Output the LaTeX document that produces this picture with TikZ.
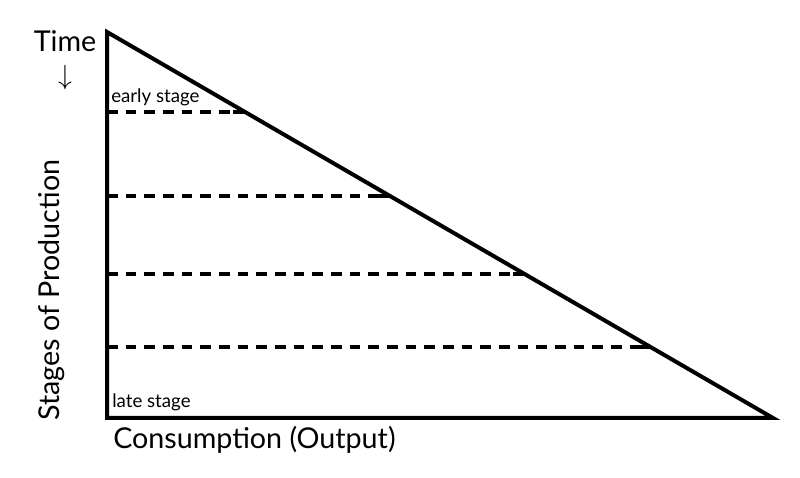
\documentclass[tikz,border=0pt]{standalone}
\usepackage{fontspec}
\setmainfont{Lato}
\usetikzlibrary{calc}
\begin{document}
\begin{tikzpicture}[x=0.75pt,y=0.75pt,
    axisline/.style={draw=black,-,line width=3pt},
    stageline/.style={draw=black,-,line width=3pt,dash pattern=on 8pt off 6pt},
    bigtext/.style={font=\fontsize{21.5}{25}\selectfont,inner sep=0pt},
    smalltext/.style={font=\fontsize{14}{16}\selectfont,inner sep=0pt}]
    \useasboundingbox (0,0) rectangle (800,478);
    \coordinate (top) at (107,446);
    \coordinate (origin) at (107,60);
    \coordinate (right) at (773,60);
    \draw [axisline] (top) -- (origin) -- (right) -- cycle;

    \foreach \t [count=\i] in {0.2073,0.4249,0.6269,0.8161} {
        \coordinate (s\i) at ($(top)!\t!(origin)$);
        \coordinate (e\i) at ($(top)!\t!(right)$);
        \draw [stageline] (s\i) to (e\i);
        \draw [axisline] (e\i) to ($(e\i)+(-12,0)$);
    }

    \node[bigtext] (time) at (65,437) {Time};
    \node[bigtext] (arrow) at (65,400) {$\downarrow$};
    \node[bigtext,rotate=90] (stages) at (52,188) {Stages of Production};
    \node[bigtext,anchor=base west] (output) at (113,29) {Consumption (Output)};
    \node[smalltext,anchor=base west] (early) at (111,375) {early stage};
    \node[smalltext,anchor=base west] (late) at (112,70) {late stage};
\end{tikzpicture}
\end{document}
